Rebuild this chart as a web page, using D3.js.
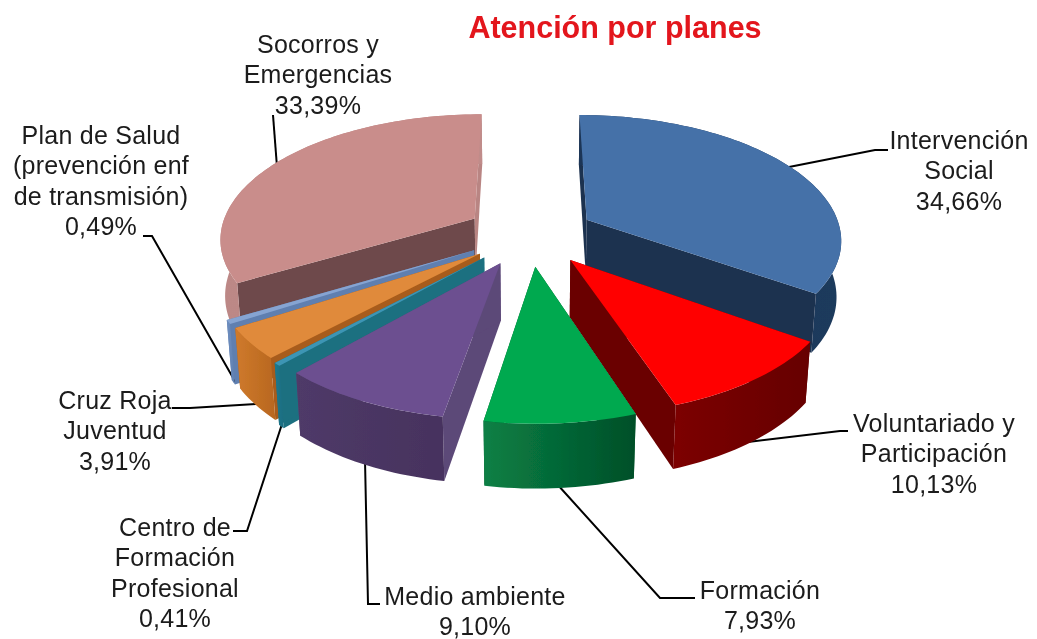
<!DOCTYPE html>
<html><head><meta charset="utf-8">
<style>html,body{margin:0;padding:0;background:#fff}svg{display:block}text{font-family:"Liberation Sans",Arial,sans-serif}</style>
<script src="https://cdn.jsdelivr.net/npm/d3@7"></script>
</head><body><div id="c"></div>
<script>
const categories=["Intervención Social","Voluntariado y Participación","Formación","Medio ambiente","Centro de Formación Profesional","Cruz Roja Juventud","Plan de Salud (prevención enf de transmisión)","Socorros y Emergencias"];
const values=[34.66,10.13,7.93,9.10,0.41,3.91,0.49,33.39];
const valueLabels=["34,66%","10,13%","7,93%","9,10%","0,41%","3,91%","0,49%","33,39%"];
const topColors=["#4571a8","#ff0000","#00a94f","#6c5090","#3d95b4","#e08a3a","#86a4d2","#c98d8b"];
const wallColors=[["#1c3556","#1f3a5c"],["#7c0000","#660000"],["#0a8045","#004f28"],["#4f3a68","#46325e"],["#1e7a8e","#1a6c80"],["#cf7a2c","#b8671f"],["#6f8fc0","#5f7fb0"],["#bc8886","#c08c8a"]];
const cutStartColors=["#1f3350","#6a0000","#005a2c","#5c4878","#1c6f80","#a85c1a","#5f7fb0","#6e4a4b"];
const cutEndColors=["#1f3350","#6a0000","#005a2c","#5c4878","#1c6f80","#a85c1a","#5f7fb0","#b98583"];
const explodes=[65,65,65,65,65,63,64,65];
const drawOrder=[0,7,6,5,4,3,1,2];
const labelLines=[["Intervención","Social"],["Voluntariado y","Participación"],["Formación"],["Medio ambiente"],["Centro de","Formación","Profesional"],["Cruz Roja","Juventud"],["Plan de Salud","(prevención enf","de transmisión)"],["Socorros y","Emergencias"]];
const labelAnchors=[[959,149],[934,432],[760,599],[475,605],[175,536],[115,409],[101,144],[318,53]];
const leaders=[[[789,167],[875,150],[888,150]],[[748,442],[840,431],[848,431]],[[557,484],[660,598],[695,598]],[[365,460],[368,604],[380,604]],[[282,424],[247,531],[233,531]],[[256,404],[190,408],[172,408]],[[236,383],[152,236],[143,236]],[[273,115],[277,167]]];

const W=1037,H=639,cx=530,cy=234,R=255,k=0.485,depth=56,D=1750,baseShrink=0.985;
const svg=d3.select("#c").append("svg").attr("width",W).attr("height",H);
const defs=svg.append("defs");
const blur=defs.append("filter").attr("id","soft").attr("x","-5%").attr("y","-5%").attr("width","110%").attr("height","110%");
blur.append("feGaussianBlur").attr("stdDeviation",0.45);
const root=svg.append("g").attr("filter","url(#soft)");

const proj=(x0,z0,h)=>{
  const b=h>0?baseShrink:1,x=x0*b,z=z0*b,s=1/(1-z/D);
  return [cx+x*s,cy+(k*z+h)*s];
};
const line=d3.line();
const arcs=d3.pie().sort(null).startAngle(0).endAngle(2*Math.PI)(values);

wallColors.forEach((c,i)=>{
  const g=defs.append("linearGradient").attr("id","w"+i);
  g.append("stop").attr("offset",0).attr("stop-color",c[0]);
  g.append("stop").attr("offset",1).attr("stop-color",c[1]);
});

const lg=root.append("g").attr("fill","none").attr("stroke","#000").attr("stroke-width",2);
leaders.forEach(p=>lg.append("path").attr("d",line(p)));

const marks=root.append("g");
drawOrder.forEach(i=>{
  const a=arcs[i],mid=(a.startAngle+a.endAngle)/2;
  const ox=explodes[i]*Math.sin(mid),oz=-explodes[i]*Math.cos(mid);
  const n=Math.max(4,Math.ceil((a.endAngle-a.startAngle)*40));
  const angs=d3.range(n+1).map(j=>a.startAngle+(a.endAngle-a.startAngle)*j/n);
  const rim=h=>angs.map(t=>proj(ox+R*Math.sin(t),oz-R*Math.cos(t),h));
  const apex=h=>proj(ox,oz,h);
  const rt=rim(0),rb=rim(depth),g=marks.append("g").attr("class","slice");
  g.append("path").attr("d",line([apex(0),apex(depth),rb[0],rt[0]])+"Z").attr("fill",cutStartColors[i]);
  g.append("path").attr("d",line([apex(0),apex(depth),rb[n],rt[n]])+"Z").attr("fill",cutEndColors[i]);
  g.append("path").attr("d",line(rt.concat(rb.slice().reverse()))+"Z").attr("fill",`url(#w${i})`);
  g.append("path").attr("d",line([apex(0)].concat(rt))+"Z").attr("fill",topColors[i]);
});

const fs=25,lh=30.3;
const tg=root.append("g").attr("font-size",fs).attr("fill","#1a1a1a").attr("text-anchor","middle").attr("letter-spacing",0.25);
categories.forEach((c,i)=>{
  const [x,y]=labelAnchors[i];
  labelLines[i].concat([valueLabels[i]]).forEach((t,j)=>{
    tg.append("text").attr("x",x).attr("y",y+j*lh).text(t);
  });
});
root.append("text").attr("x",615).attr("y",38).attr("text-anchor","middle").attr("font-size",30.5).attr("font-weight","bold").attr("fill","#e3141c").text("Atención por planes");
</script></body></html>
